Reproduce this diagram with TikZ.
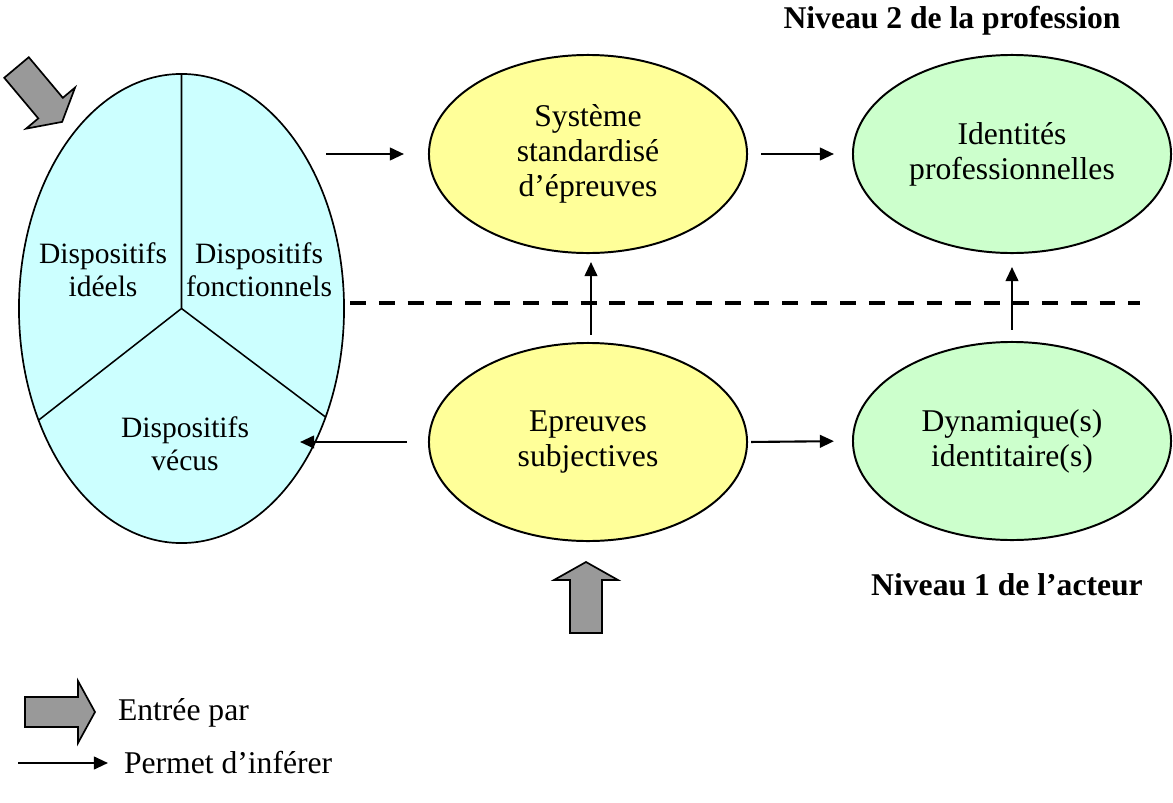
\documentclass[tikz,border=0pt]{standalone}
\usepackage{fontspec}
\setmainfont{Liberation Serif}
\usetikzlibrary{shapes.geometric,arrows.meta}
\definecolor{dispcyan}{HTML}{CCFFFF}
\definecolor{epryellow}{HTML}{FFFF99}
\definecolor{idgreen}{HTML}{CCFFCC}
\definecolor{entrygray}{HTML}{999999}

\begin{document}
\begin{tikzpicture}[x=0.025cm, y=-0.025cm,
  font=\fontsize{22.5}{25}\selectfont,
  every node/.style={inner sep=0pt, outer sep=0pt},
  bubble/.style={ellipse, draw, line width=1.4pt, align=center,
    minimum width=7.95cm, minimum height=4.95cm},
  disptext/.style={align=center, font=\fontsize{21}{23.5}\selectfont},
  divider/.style={line width=1.1pt},
  infer/.style={line width=1.5pt, -{Triangle[length=10pt, width=9pt]}},
  levelline/.style={line width=2.8pt, dash pattern=on 11.3pt off 9.2pt},
  entry/.style={fill=entrygray, draw, line width=1.2pt, line join=miter},
  level/.style={font=\fontsize{22.5}{25}\selectfont\bfseries}]
  \useasboundingbox (0,0) rectangle (1173,803);
  %% the three dispositifs
  \node[ellipse, draw, fill=dispcyan, line width=1.2pt,
    minimum width=8.125cm, minimum height=11.725cm] (disp) at (181.5,308.5) {};
  \coordinate (hub) at (disp.center);
  \draw[divider] (disp.north) -- (hub) -- (disp.218);
  \draw[divider] (hub) -- (disp.323);
  \node[disptext] (ideels) at (103,270) {Dispositifs\\idéels};
  \node[disptext] (fonct) at (259,270) {Dispositifs\\fonctionnels};
  \node[disptext] (vecus) at (185,444) {Dispositifs\\vécus};
  %% epreuves
  \node[bubble, fill=epryellow] (sys) at (588,154) {Système\\standardisé\\d’épreuves};
  \node[bubble, fill=epryellow] (epr) at (588,442) {Epreuves\\subjectives};
  %% identites
  \node[bubble, fill=idgreen] (ident) at (1012,154) {Identités\\professionnelles};
  \node[bubble, fill=idgreen] (dyn) at (1012,441) {Dynamique(s)\\identitaire(s)};
  %% levels
  \node[level] (lvl2) at (952,21) {Niveau 2 de la profession};
  \node[level] (lvl1) at (1007,585) {Niveau 1 de l’acteur};
  \draw[levelline] (350,303) -- (1140,303);
  %% inferences
  \draw[infer, shorten <=-0.45cm, shorten >=0.625cm] (disp.east |- sys.west) -- (sys.west);
  \draw[infer, shorten <=0.35cm, shorten >=0.475cm] (sys.east) -- (ident.west);
  \draw[infer, shorten <=0.2cm, shorten >=0.225cm] ([xshift=0.075cm]epr.north) -- ([xshift=0.075cm]sys.south);
  \draw[infer, shorten <=0.3cm, shorten >=0.35cm] (dyn.north) -- (ident.south);
  \draw[infer, shorten <=0.55cm, shorten >=-1.1cm] (epr.west) -- (disp.east |- epr.west);
  \draw[infer, shorten <=0.1cm, shorten >=0.475cm] (epr.east) -- (dyn.west);
  %% entry points
  \draw[entry, shift={(16.5,67.5)}, rotate=-50]
    (0,-16) -- (53,-16) -- (53,-32) -- (71,0) -- (53,32) -- (53,16) -- (0,16) -- cycle;
  \draw[entry, shift={(586,633)}, rotate=90]
    (0,-16) -- (53,-16) -- (53,-32) -- (71,0) -- (53,32) -- (53,16) -- (0,16) -- cycle;
  %% legend
  \draw[entry, shift={(25,712)}]
    (0,-15) -- (53,-15) -- (53,-31) -- (70,0) -- (53,31) -- (53,15) -- (0,15) -- cycle;
  \node[anchor=west] (legentry) at (118,713) {Entrée par};
  \node[anchor=west] (leginfer) at (124,763) {Permet d’inférer};
  \coordinate (legstart) at (18,763);
  \draw[infer, shorten >=0.4cm] (legstart) -- (leginfer.west);
\end{tikzpicture}
\end{document}
